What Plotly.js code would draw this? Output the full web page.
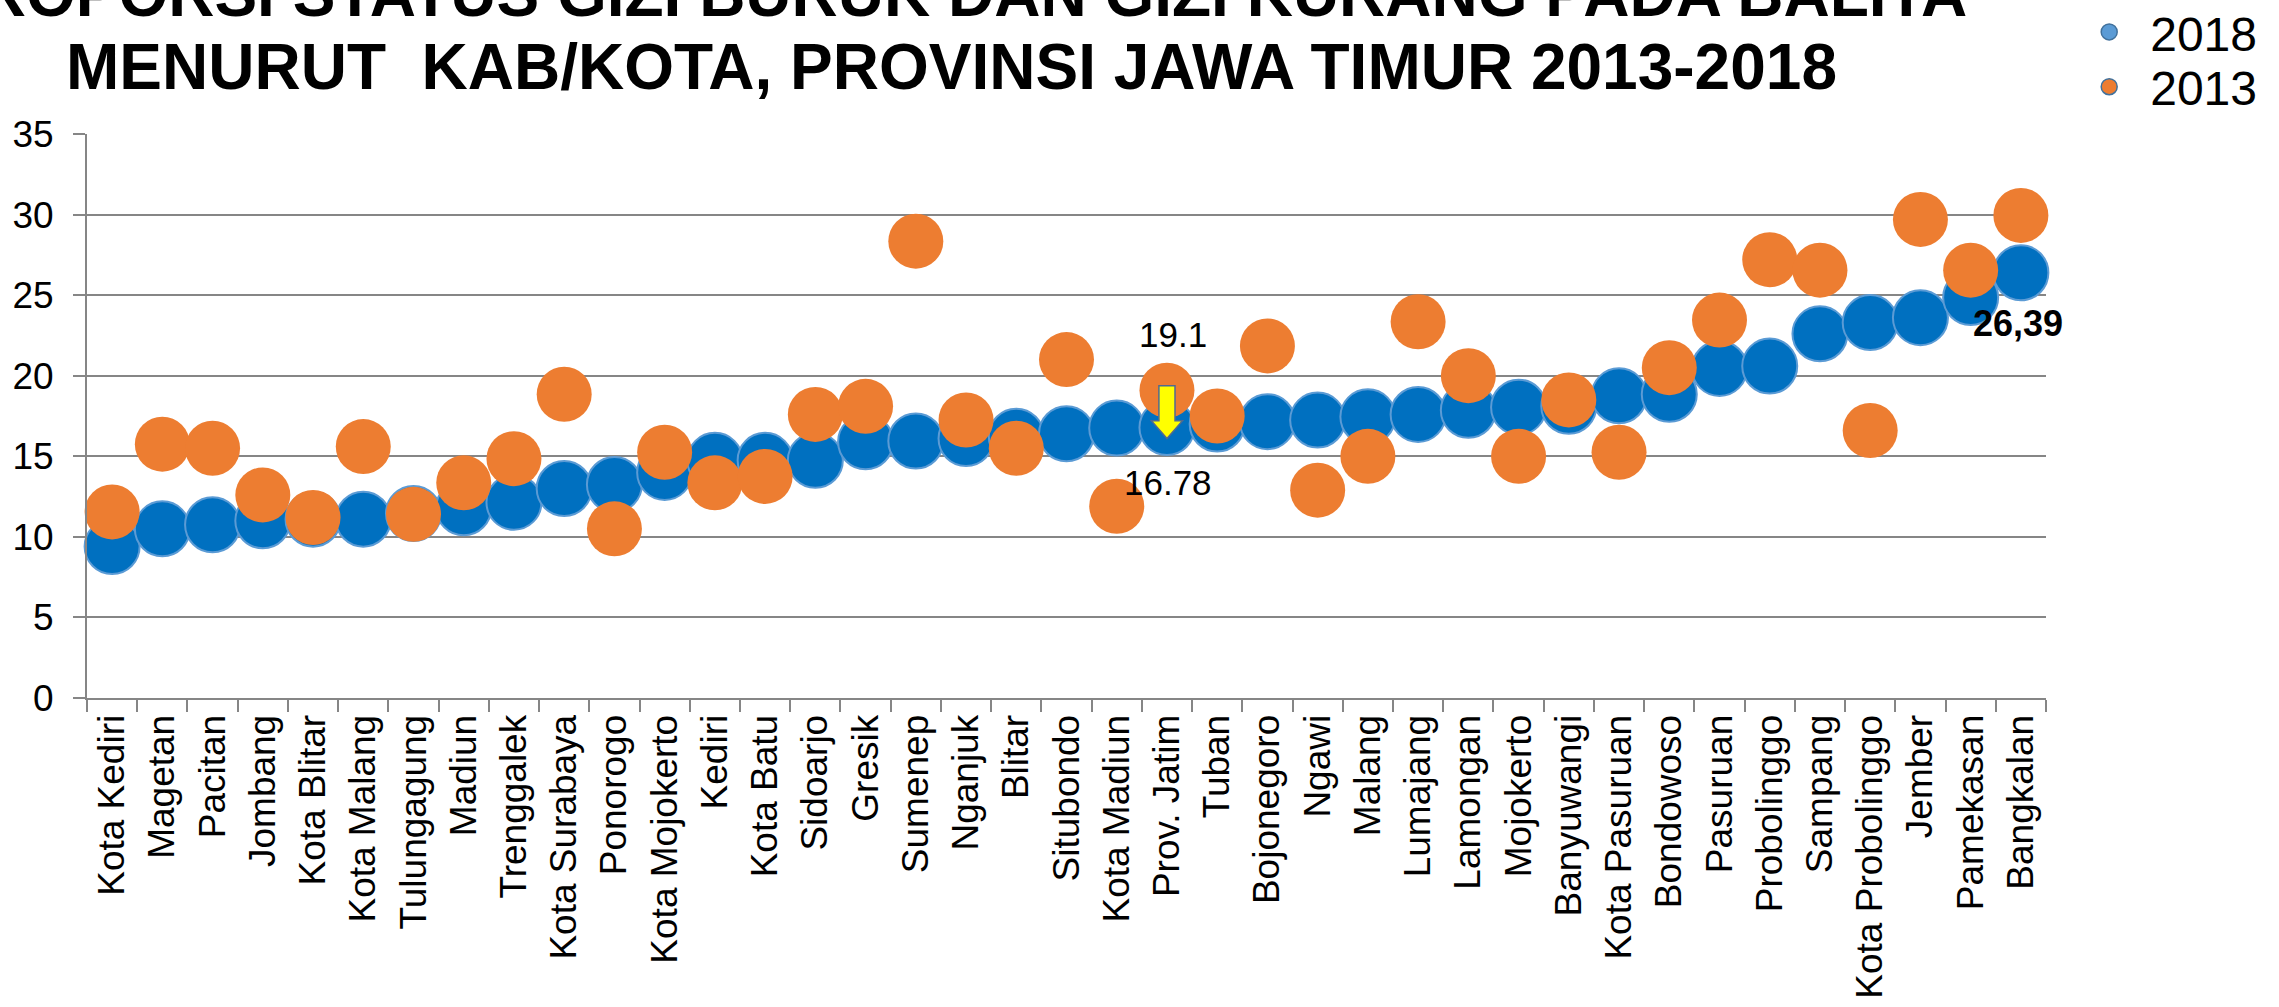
<!DOCTYPE html>
<html>
<head>
<meta charset="utf-8">
<script src="https://cdn.plot.ly/plotly-3.0.1.min.js"></script>
<style>
html,body{margin:0;padding:0;background:#fff;}
#chart{width:2279px;height:1007px;}
</style>
</head>
<body>
<div id="chart"></div>
<script>
const categories = ['Kota Kediri','Magetan','Pacitan','Jombang','Kota Blitar','Kota Malang','Tulungagung','Madiun','Trenggalek','Kota Surabaya','Ponorogo','Kota Mojokerto','Kediri','Kota Batu','Sidoarjo','Gresik','Sumenep','Nganjuk','Blitar','Situbondo','Kota Madiun','Prov. Jatim','Tuban','Bojonegoro','Ngawi','Malang','Lumajang','Lamongan','Mojokerto','Banyuwangi','Kota Pasuruan','Bondowoso','Pasuruan','Probolinggo','Sampang','Kota Probolinggo','Jember','Pamekasan','Bangkalan'];

const values2018 = [9.4,10.5,10.75,11.0,11.1,11.1,11.45,11.8,12.15,13.0,13.25,14.0,14.75,14.75,14.75,15.9,15.95,16.1,16.25,16.4,16.75,16.78,17.0,17.15,17.25,17.45,17.6,17.85,18.05,18.1,18.75,18.85,20.45,20.6,22.6,23.3,23.6,24.85,26.39];

const values2013 = [11.55,15.75,15.5,12.6,11.2,15.6,11.4,13.35,14.85,18.85,10.5,15.25,13.35,13.75,17.6,18.1,28.35,17.25,15.5,21.0,11.9,19.1,17.5,21.85,12.9,15.0,23.35,20.0,15.0,18.5,15.25,20.5,23.45,27.2,26.55,16.6,29.7,26.55,29.95];

const seriesNames = ['2018','2013'];
const titleLines = ['PROPORSI STATUS GIZI BURUK DAN GIZI KURANG PADA BALITA','MENURUT  KAB/KOTA, PROVINSI JAWA TIMUR 2013-2018'];
const yTicks = [0,5,10,15,20,25,30,35];

const FONT = 'Liberation Sans, Arial, sans-serif';
const GRID = '#868686';

const traces = [
  {
    type:'scatter', mode:'markers', x:categories, y:values2018, name:seriesNames[0], showlegend:false,
    marker:{size:55, color:'#0070C0', line:{color:'#5B9BD5', width:2}}, cliponaxis:false
  },
  {
    type:'scatter', mode:'markers', x:categories, y:values2013, name:seriesNames[1], showlegend:false,
    marker:{size:55, color:'#ED7D31', line:{width:0}}, cliponaxis:false
  },
  {
    type:'scatter', mode:'markers', x:[null], y:[null], name:seriesNames[0], showlegend:true, legend:'legend',
    marker:{size:16, color:'#5B9BD5', line:{color:'#41719C', width:1.5}}
  },
  {
    type:'scatter', mode:'markers', x:[null], y:[null], name:seriesNames[1], showlegend:true, legend:'legend2',
    marker:{size:16, color:'#ED7D31', line:{color:'#41719C', width:1.5}}
  }
];

const iJ = categories.indexOf('Prov. Jatim');
const iB = categories.indexOf('Bangkalan');
const arrTop = values2013[iJ] + 0.27;
const arrBot = values2018[iJ] - 0.68;
const arrHead = arrBot + 1.1;
const sw = 0.16, hw = 0.31;
const arrowPath = 'M ' + (iJ-sw) + ',' + arrTop + ' L ' + (iJ+sw) + ',' + arrTop +
  ' L ' + (iJ+sw) + ',' + arrHead + ' L ' + (iJ+hw) + ',' + arrHead +
  ' L ' + iJ + ',' + arrBot + ' L ' + (iJ-hw) + ',' + arrHead +
  ' L ' + (iJ-sw) + ',' + arrHead + ' Z';

const legendBase = {
  xref:'container', yref:'container', x:0.9075, xanchor:'left', yanchor:'middle',
  font:{family:FONT, size:48, color:'#000000'}, bgcolor:'rgba(0,0,0,0)', borderwidth:0,
  itemwidth:72, tracegroupgap:0
};

const layout = {
  width:2279, height:1007,
  margin:{l:87, r:233, t:134, b:309, pad:0},
  paper_bgcolor:'#ffffff', plot_bgcolor:'#ffffff',
  font:{family:FONT, color:'#000000'},
  showlegend:true,
  legend:Object.assign({}, legendBase, {y:0.968}),
  legend2:Object.assign({}, legendBase, {y:0.9136}),
  xaxis:{
    type:'category', categoryorder:'array', categoryarray:categories,
    range:[-0.5, categories.length-0.5],
    tickangle:-90, tickfont:{family:FONT, size:37, color:'#000000'},
    ticks:'outside', ticklen:12, tickwidth:2, tickcolor:GRID, tickson:'boundaries',
    showline:true, linecolor:GRID, linewidth:2, showgrid:false, zeroline:false, fixedrange:true
  },
  yaxis:{
    range:[0,35], tickvals:yTicks, ticktext:yTicks.map(String),
    tickfont:{family:FONT, size:37, color:'#000000'}, ticklabelstandoff:12,
    ticks:'outside', ticklen:12, tickwidth:2, tickcolor:GRID,
    showgrid:true, gridcolor:GRID, gridwidth:2,
    showline:true, linecolor:GRID, linewidth:2, zeroline:false, fixedrange:true
  },
  shapes:[{
    type:'path', xref:'x', yref:'y', path:arrowPath,
    fillcolor:'#FFFF00', line:{color:'#4F6A92', width:1.5}, layer:'above'
  }],
  annotations:[
    {xref:'paper', yref:'paper', x:0.4415, y:1.2477, xanchor:'center', yanchor:'middle', showarrow:false,
     text:'<b>'+titleLines[0]+'</b>', font:{family:FONT, size:64, color:'#000000'}},
    {xref:'paper', yref:'paper', x:0.4415, y:1.1183, xanchor:'center', yanchor:'middle', showarrow:false,
     text:'<b>'+titleLines[1]+'</b>', font:{family:FONT, size:64, color:'#000000'}},
    {xref:'x', yref:'y', x:categories[iJ], y:values2013[iJ], xshift:6, yshift:56, showarrow:false,
     text:String(values2013[iJ]), font:{family:FONT, size:35, color:'#000000'}},
    {xref:'x', yref:'y', x:categories[iJ], y:values2018[iJ], xshift:1, yshift:-55, showarrow:false,
     text:String(values2018[iJ]), font:{family:FONT, size:35, color:'#000000'}},
    {xref:'x', yref:'y', x:categories[iB], y:values2018[iB], xshift:-3, yshift:-51, showarrow:false,
     text:'<b>'+String(values2018[iB]).replace('.',',')+'</b>', font:{family:FONT, size:36, color:'#000000'}}
  ]
};

Plotly.newPlot('chart', traces, layout, {displayModeBar:false, staticPlot:true});
</script>
</body>
</html>
